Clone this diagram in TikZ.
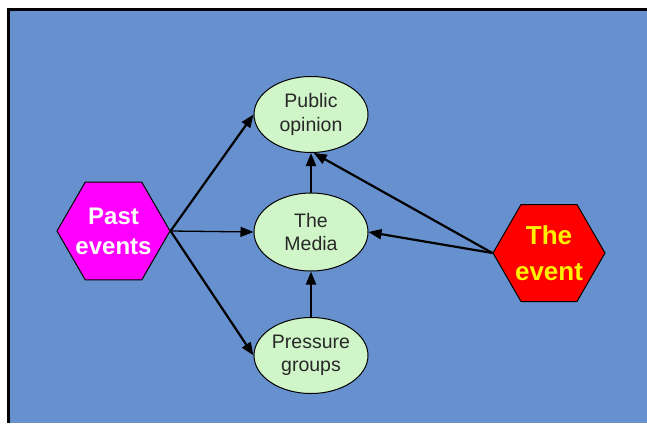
\documentclass[tikz,border=0pt]{standalone}
\usepackage{fontspec}
\setmainfont{Liberation Sans}
\usetikzlibrary{shapes.geometric,arrows.meta}
\definecolor{bg}{RGB}{102,145,206}
\definecolor{ellfill}{RGB}{208,245,200}
\definecolor{pastfill}{RGB}{255,0,255}
\definecolor{txtgray}{RGB}{40,40,40}
\begin{document}
\begin{tikzpicture}[x=1pt,y=-1pt,
  hexnode/.style={regular polygon, regular polygon sides=6, minimum size=113pt, inner sep=-10pt, draw=black, line width=1pt, align=center},
  ellnode/.style={ellipse, draw=black, line width=1pt, fill=ellfill, minimum width=114pt, minimum height=76pt, inner sep=-4pt, align=center, text=txtgray, font=\fontsize{19.5}{23.5}\selectfont},
  arr/.style={-{Triangle[length=13pt,width=10pt]}, line width=2.2pt},
]
\fill[white] (0,0) rectangle (647,423);
\fill[black] (7,8) rectangle (647,423);
\fill[bg] (10,11) rectangle (647,423);
\useasboundingbox (0,0) rectangle (647,423);

\node[hexnode, fill=pastfill, text=white, font=\bfseries\fontsize{24}{30}\selectfont] (pe) at (113.5,231) {Past\\events};
\node[hexnode, fill=red, text=yellow, minimum size=112pt, font=\bfseries\fontsize{26}{36}\selectfont] (ev) at (549,253) {The\\event};

\node[ellnode] (po) at (311,114.5) {Public\\opinion};
\node[ellnode, minimum height=78pt] (md) at (311,232) {The\\Media};
\node[ellnode] (pg) at (311,355.5) {Pressure\\groups};

\draw[arr] (pe.east) -- (po.west);
\draw[arr, line width=1.3pt] (pe.east) -- (md.west);
\draw[arr] (pe.east) -- (pg.west);
\draw[arr] (md.north) -- (po.south);
\draw[arr] (pg.north) -- (md.south);
\draw[arr] (ev.west) -- (po.-86);
\draw[arr] (ev.west) -- (md.east);
\end{tikzpicture}
\end{document}
